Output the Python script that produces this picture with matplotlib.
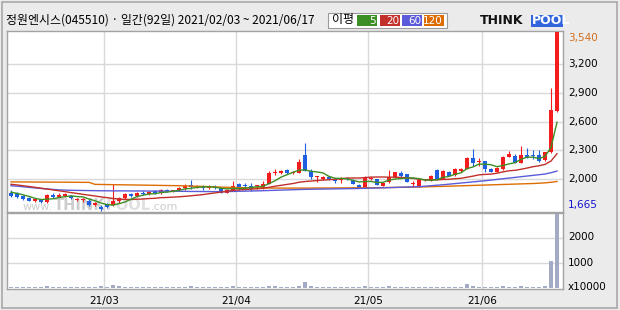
import numpy as np
import pandas as pd
import matplotlib
matplotlib.use('Agg')
import matplotlib.pyplot as plt
from matplotlib.patches import Rectangle

plt.rcParams['font.family'] = ['Noto Sans CJK KR', 'DejaVu Sans']

title = '정원엔시스(045510) · 일간(92일) 2021/02/03 ~ 2021/06/17'
month_labels = ['21/03', '21/04', '21/05', '21/06']
month_starts = [16, 38, 60, 79]  # index of first trading day in each month

opens = [1857, 1850, 1822, 1801, 1766, 1780, 1759, 1836, 1815, 1822,
         1825, 1780, 1780, 1773, 1730, 1711, 1739, 1725, 1765, 1800,
         1840, 1825, 1850, 1840, 1870, 1850, 1890, 1870, 1880, 1910,
         1940, 1915, 1925, 1905, 1920, 1910, 1857, 1885, 1945, 1932,
         1930, 1925, 1903, 1951, 2066, 2060, 2094, 2062, 2066, 2251,
         2087, 2020, 1997, 2017, 2003, 1985, 2010, 1990, 1937, 1910,
         2005, 2000, 1930, 1969, 2024, 2062, 2048, 1950, 1926, 1985,
         1982, 2094, 2003, 2073, 2038, 2083, 2108, 2219, 2177, 2184,
         2104, 2076, 2101, 2233, 2240, 2170, 2250, 2250, 2250, 2198,
         2285, 2714]
highs = [1885, 1866, 1836, 1812, 1805, 1790, 1840, 1850, 1850, 1852,
         1830, 1800, 1798, 1790, 1760, 1725, 1750, 1948, 1810, 1850,
         1850, 1860, 1870, 1875, 1880, 1900, 1900, 1890, 1920, 1945,
         1990, 1940, 1935, 1935, 1935, 1915, 1900, 1976, 1960, 1955,
         1955, 1935, 1980, 2080, 2101, 2090, 2100, 2080, 2206, 2380,
         2100, 2027, 2030, 2030, 2010, 2020, 2020, 1995, 1945, 2027,
         2020, 2005, 1960, 2094, 2075, 2085, 2055, 1975, 1995, 2000,
         2040, 2100, 2090, 2085, 2110, 2110, 2225, 2310, 2215, 2190,
         2110, 2125, 2240, 2289, 2260, 2350, 2325, 2300, 2300, 2285,
         2951, 3540]
lows = [1808, 1800, 1780, 1766, 1760, 1752, 1752, 1800, 1808, 1815,
        1795, 1770, 1760, 1720, 1720, 1665, 1700, 1715, 1750, 1790,
        1815, 1815, 1830, 1835, 1840, 1845, 1860, 1860, 1870, 1880,
        1900, 1905, 1890, 1895, 1900, 1850, 1850, 1880, 1885, 1885,
        1870, 1900, 1895, 1945, 2038, 2050, 2050, 2050, 2060, 2080,
        2000, 1970, 1990, 1990, 1955, 1960, 1990, 1945, 1905, 1905,
        1985, 1935, 1925, 1960, 2010, 2010, 1965, 1920, 1920, 1975,
        1975, 1990, 1995, 2030, 2030, 2075, 2100, 2135, 2135, 2073,
        2070, 2070, 2095, 2225, 2165, 2165, 2215, 2210, 2180, 2190,
        2268, 2700]
closes = [1822, 1815, 1787, 1773, 1794, 1759, 1832, 1808, 1836, 1843,
          1801, 1794, 1790, 1725, 1752, 1683, 1711, 1765, 1800, 1840,
          1825, 1850, 1840, 1865, 1850, 1890, 1870, 1885, 1910, 1930,
          1915, 1925, 1905, 1920, 1910, 1857, 1890, 1927, 1920, 1925,
          1895, 1931, 1945, 2066, 2070, 2085, 2059, 2070, 2178, 2080,
          2017, 2025, 2017, 1997, 1983, 2010, 1995, 1948, 1910, 2010,
          2010, 1941, 1955, 2024, 2069, 2035, 1972, 1955, 1989, 1990,
          2031, 1996, 2083, 2035, 2104, 2104, 2219, 2170, 2181, 2100,
          2076, 2118, 2233, 2261, 2170, 2250, 2226, 2236, 2188, 2278,
          2725, 3540]
# volume in units of 10000 shares
volume = [35, 30, 40, 30, 35, 30, 45, 35, 30, 35,
          30, 30, 35, 40, 30, 45, 40, 90, 80, 40,
          35, 35, 30, 35, 30, 40, 30, 30, 35, 40,
          45, 30, 30, 30, 30, 35, 30, 45, 35, 30,
          30, 30, 35, 80, 45, 40, 35, 35, 80, 230,
          80, 40, 35, 30, 30, 35, 30, 35, 35, 45,
          30, 35, 30, 45, 40, 35, 40, 30, 35, 30,
          35, 40, 40, 35, 40, 30, 150, 80, 40, 40,
          35, 35, 45, 40, 35, 80, 40, 35, 40, 45,
          1070, 2940]

ma5_head = [1862, 1850, 1835, 1818]
ma20_head = [1945, 1938, 1930, 1922, 1913, 1904, 1895, 1886, 1877, 1868,
             1858, 1849, 1840, 1831, 1822, 1813, 1805, 1797, 1790]
ma60 = [1930, 1925, 1919, 1913, 1907, 1901, 1896, 1891, 1886, 1884,
        1882, 1881, 1880, 1879, 1878, 1877, 1877, 1876, 1876, 1876,
        1875, 1875, 1875, 1874, 1874, 1873, 1873, 1872, 1872, 1871,
        1870, 1870, 1869, 1869, 1868, 1868, 1869, 1870, 1872, 1873,
        1875, 1876, 1878, 1880, 1882, 1884, 1886, 1888, 1890, 1892,
        1893, 1894, 1895, 1896, 1897, 1898, 1899, 1900, 1901, 1903,
        1905, 1906, 1908, 1910, 1912, 1914, 1916, 1918, 1920, 1925,
        1930, 1935, 1940, 1946, 1952, 1958, 1964, 1970, 1976, 1982,
        1989, 1996, 2003, 2010, 2017, 2024, 2031, 2038, 2045, 2052,
        2066, 2083]
ma120 = [1970, 1970, 1969, 1969, 1968, 1968, 1968, 1967, 1967, 1967,
         1966, 1966, 1965, 1965, 1944, 1943, 1942, 1941, 1940, 1939,
         1938, 1937, 1936, 1935, 1934, 1933, 1932, 1931, 1930, 1928,
         1926, 1924, 1922, 1920, 1918, 1915, 1913, 1911, 1910, 1909,
         1908, 1907, 1906, 1906, 1905, 1905, 1905, 1905, 1905, 1905,
         1905, 1906, 1906, 1906, 1907, 1907, 1907, 1908, 1908, 1908,
         1909, 1909, 1910, 1911, 1912, 1913, 1914, 1915, 1916, 1918,
         1920, 1922, 1923, 1925, 1927, 1929, 1931, 1933, 1935, 1937,
         1939, 1941, 1943, 1945, 1947, 1949, 1951, 1953, 1956, 1960,
         1966, 1974]

price_ticks = [2000, 2300, 2600, 2900, 3200]
vol_ticks = [1000, 2000]
ma_names = ['5', '20', '60', '120']
ma_colors = ['#3c8f24', '#c1302a', '#5b5bd9', '#dd6d02']
up_color = '#f41c1c'
down_color = '#1f60e2'
grid_color = '#d9d9d9'
frame_color = '#a3a3a3'

W, H = 620, 310
fig = plt.figure(figsize=(W / 100, H / 100), dpi=100, facecolor='#ebebeb')


def fx(px):
    return px / W


def fy(py):
    return 1 - py / H


ax = fig.add_axes([fx(7), fy(212), fx(556), (212 - 31) / H])
axv = fig.add_axes([fx(7), fy(289), fx(556), (289 - 213) / H])

o = np.array(opens)
hi = np.array(highs)
lo = np.array(lows)
c = np.array(closes)
x = np.arange(len(c))

cs = pd.Series(closes, dtype=float)
ma5 = cs.rolling(5).mean().values
ma5[:4] = ma5_head
ma20 = cs.rolling(20).mean().values
ma20[:19] = ma20_head

# candles
cols = np.where(c >= o, up_color, down_color)
ax.vlines(x, lo, hi, colors=cols, lw=0.8, zorder=3)
body = np.maximum(np.abs(c - o), 8)
ax.bar(x, body, bottom=np.minimum(o, c), width=0.72, color=cols, zorder=3)

for vals, col in zip([ma120, ma60, ma20, ma5], ma_colors[::-1]):
    ax.plot(x, vals, color=col, lw=1.0, zorder=4)

ax.set_xlim(-0.67, 92.0)
ax.set_ylim(1655, 3548)
ax.set_yticks(price_ticks)
ax.set_xticks([m - 0.5 for m in month_starts])
ax.grid(True, color=grid_color, lw=1.0, zorder=0)
ax.set_axisbelow(True)
ax.tick_params(length=0, labelleft=False, labelbottom=False)
ax.set_facecolor('white')
for s in ax.spines.values():
    s.set_color(frame_color)
    s.set_linewidth(1.0)

# price labels on the right
for t in price_ticks:
    ax.text(1.009, t, f'{t:,}', transform=ax.get_yaxis_transform(),
            fontsize=7.5, va='center', ha='left', family='DejaVu Sans')
ax.annotate(f'{max(highs):,}', xy=(1.009, max(highs)), xycoords=ax.get_yaxis_transform(),
            xytext=(0, -6), textcoords='offset pixels', fontsize=7.5,
            va='center', ha='left', color='#d2701e', family='DejaVu Sans')
ax.annotate(f'{min(lows):,}', xy=(1.009, min(lows)), xycoords=ax.get_yaxis_transform(),
            xytext=(0, 6), textcoords='offset pixels', fontsize=7.5,
            va='center', ha='left', color='#1414d2', family='DejaVu Sans')

# volume panel
axv.bar(x, volume, width=0.75, color='#a3abc4', zorder=3)
axv.set_xlim(-0.67, 92.0)
axv.set_ylim(-60, 2980)
axv.set_yticks(vol_ticks)
axv.set_xticks([m - 0.5 for m in month_starts])
axv.set_xticklabels(month_labels)
axv.grid(True, color=grid_color, lw=1.0, zorder=0)
axv.set_axisbelow(True)
axv.tick_params(length=0, labelleft=False, labelsize=7.5, pad=5)
for lab in axv.get_xticklabels():
    lab.set_family('DejaVu Sans')
axv.set_facecolor('white')
for s in axv.spines.values():
    s.set_color(frame_color)
    s.set_linewidth(1.0)
for t in vol_ticks:
    axv.text(1.009, t, str(t), transform=axv.get_yaxis_transform(),
             fontsize=7.5, va='center', ha='left', family='DejaVu Sans')
fig.text(fx(568), fy(287), 'x10000', fontsize=7.5, va='center', ha='left',
         family='DejaVu Sans')

# header
fig.text(fx(6), fy(20), title, fontsize=8.6, va='center', ha='left')
fig.patches.append(Rectangle((fx(328), fy(27.5)), fx(119), 15 / H,
                             transform=fig.transFigure, facecolor='white',
                             edgecolor='#9a9a9a', lw=0.8))
fig.text(fx(332), fy(20), '이평', fontsize=8.6, va='center', ha='left')
box_x = [357, 380, 402, 424]
box_w = [20, 20, 20, 20]
for bx, bw, name, col in zip(box_x, box_w, ma_names, ma_colors):
    fig.patches.append(Rectangle((fx(bx), fy(26)), fx(bw), 11 / H,
                                 transform=fig.transFigure, facecolor=col,
                                 edgecolor='none'))
    fig.text(fx(bx + bw - 1), fy(20.5), name, fontsize=7.5, color='white',
             va='center', ha='right', family='DejaVu Sans')

# logo
fig.text(fx(480), fy(20.5), 'THINK', fontsize=9, weight='bold', va='center',
         ha='left', family='DejaVu Sans', color='#111111')
fig.patches.append(Rectangle((fx(531), fy(27)), fx(32), 12 / H,
                             transform=fig.transFigure, facecolor='#3366dd',
                             edgecolor='none'))
fig.text(fx(532), fy(20.5), 'POOL', fontsize=9, weight='bold', va='center',
         ha='left', family='DejaVu Sans', color='white')

# outer frame
fig.patches.append(Rectangle((fx(2), fy(308)), fx(615), 306 / H,
                             transform=fig.transFigure, facecolor='none',
                             edgecolor='#a8a8a8', lw=1.2))

# watermark, pieces placed one after another
fig.canvas.draw()
rend = fig.canvas.get_renderer()
wm_parts = [('www.', 8, 'normal', '#cdcdcd'),
            ('THINK', 10.5, 'bold', '#cdcdcd'),
            ('POOL', 10.5, 'bold', '#e0e0e0'),
            ('.com', 8, 'normal', '#cdcdcd')]
xpos = 23
for s, size, weight, col in wm_parts:
    t = ax.text(fx(xpos), fy(210), s, transform=fig.transFigure, va='baseline',
                ha='left', family='DejaVu Sans', fontsize=size, weight=weight,
                color=col, zorder=1)
    xpos += t.get_window_extent(rend).width + 0.5

fig.savefig('out.png', dpi=100, facecolor=fig.get_facecolor())
